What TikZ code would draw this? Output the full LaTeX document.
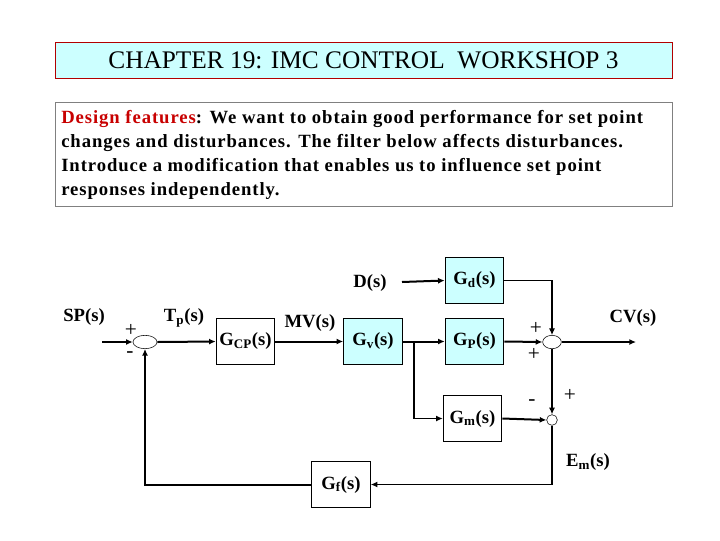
\documentclass[tikz,border=0pt]{standalone}
\usepackage{fontspec}
\setmainfont{Liberation Serif}
\usetikzlibrary{arrows.meta,shapes.geometric}
\definecolor{cyanfill}{RGB}{204,255,255}
\definecolor{redtxt}{RGB}{200,0,0}
\begin{document}
\begin{tikzpicture}[x=0.75pt,y=-0.75pt,
  blk/.style={draw,line width=0.7pt,minimum width=44pt,minimum height=34pt,inner sep=0pt,font=\bfseries\fontsize{14}{16}\selectfont},
  cblk/.style={blk,fill=cyanfill},
  lbl/.style={font=\bfseries\fontsize{14}{16}\selectfont,inner sep=0pt},
  sgn/.style={font=\fontsize{16}{16}\selectfont,inner sep=0pt},
  sig/.style={line width=1.5pt,-{Latex[length=5pt,width=4.5pt]}},
  thin/.style={line width=0.8pt,-{Latex[length=5pt,width=4.5pt]}}]
\useasboundingbox (0,0) rectangle (720,540);
\node[draw=red!70!black,fill=cyanfill,minimum width=463pt,minimum height=27pt,inner sep=0pt,font=\fontsize{19}{22}\selectfont] (title) at (363.5,60) {CHAPTER 19: IMC CONTROL\ \ WORKSHOP 3};
\node[draw=gray,minimum width=463pt,minimum height=78pt,inner sep=0pt] (desc) at (363.5,154) {};
\node[anchor=north west,align=left,inner sep=0pt,font=\bfseries\fontsize{14}{18}\selectfont\addfontfeature{LetterSpace=5}] (dtext) at (61,110) {\textcolor{redtxt}{Design features}: We want to obtain good performance for set point\\changes and disturbances. The filter below affects disturbances.\\Introduce a modification that enables us to influence set point\\responses independently.};
% blocks
\node[blk] (gcp) at (245.5,341.5) {G$_{\mathbf{CP}}$(s)};
\node[cblk] (gv) at (373,341.5) {G$_{\mathbf{v}}$(s)};
\node[cblk] (gd) at (474.5,280.5) {G$_{\mathbf{d}}$(s)};
\node[cblk] (gp) at (474.5,341.5) {G$_{\mathbf{P}}$(s)};
\node[blk] (gm) at (472.5,418.5) {G$_{\mathbf{m}}$(s)};
\node[blk] (gf) at (341,484.5) {G$_{\mathbf{f}}$(s)};
% sums
\node[draw,ellipse,minimum width=18pt,minimum height=10pt,inner sep=0pt] (s1) at (145,342) {};
\node[draw,ellipse,minimum width=14pt,minimum height=10pt,inner sep=0pt] (s2) at (552,342) {};
\node[draw,circle,minimum size=8pt,inner sep=0pt] (s3) at (552,420) {};
\coordinate (spin) at (102,342);
\coordinate (din) at (402,282);
\coordinate (cvout) at (636,342);
\coordinate (br) at (414,341.5);
% labels
\node[lbl] (sp) at (84,317) {SP(s)};
\node[lbl] (tp) at (184,318) {T$_{\mathbf{p}}$(s)};
\node[lbl] (mv) at (310,323) {MV(s)};
\node[lbl] (d) at (370,283) {D(s)};
\node[lbl] (cv) at (633,318) {CV(s)};
\node[lbl] (em) at (588,462) {E$_{\mathbf{m}}$(s)};
\node[sgn] (p1) at (131,330) {+};
\node[sgn] (m1) at (130,355) {-};
\node[sgn] (p2) at (536,328) {+};
\node[sgn] (p3) at (534,354) {+};
\node[sgn] (m3) at (532,403) {-};
\node[sgn] (p4) at (570,395) {+};
% connectors
\draw[sig] (spin) -- (s1.west);
\draw[sig] (s1.east) -- (gcp.west);
\draw[sig] (gcp.east) -- (gv.west);
\draw[sig] (din) -- (gd.west);
\draw[sig] (gv.east) -- (gp.west);
\draw[thin] (br) |- (gm.west);
\draw[thin] (gd.east) -| (s2.north);
\draw[sig] (gp.east) -- (s2.west);
\draw[sig] (s2.east) -- (cvout);
\draw[sig] (s2.south) -- (s3.north);
\draw[sig] (gm.east) -- (s3.west);
\draw[thin] (s3.south) |- (gf.east);
\draw[sig] (gf.west) -| (s1.south);
\end{tikzpicture}
\end{document}
